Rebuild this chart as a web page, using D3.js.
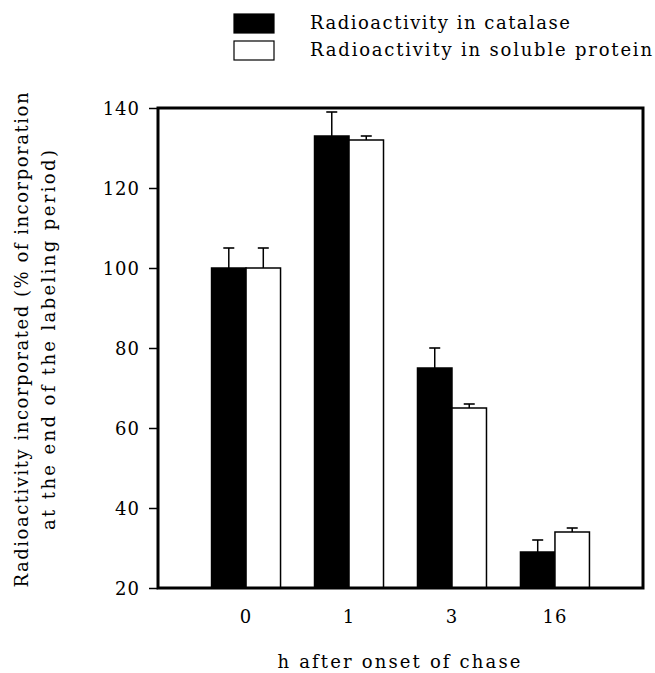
<!DOCTYPE html>
<html><head><meta charset="utf-8">
<script src="https://cdn.jsdelivr.net/npm/d3@7"></script>
<style>body{margin:0;background:#fff}svg{display:block}text{font-family:"DejaVu Serif",serif;fill:#000}</style>
</head><body><svg id="c" width="655" height="673"></svg>
<script>
const categories = ["0", "1", "3", "16"];
const catalase = [100, 133, 75, 29];
const catalaseErr = [5, 6, 5, 3];
const soluble = [100, 132, 65, 34];
const solubleErr = [5, 1, 1, 1];
const yTicks = [20, 40, 60, 80, 100, 120, 140];
const seriesNames = ["Radioactivity in catalase", "Radioactivity in soluble protein"];

const svg = d3.select("#c");
const L = 158, R = 643, T = 108, B = 588;
const x = d3.scaleBand().domain(categories).range([L, R]).paddingOuter(0.52).paddingInner(0.33);
const y = d3.scaleLinear().domain([20, 140]).range([B, T]);
const xs = d3.scaleBand().domain([0, 1]).range([0, x.bandwidth()]);

const series = [
  {vals: catalase, err: catalaseErr, fill: "#000"},
  {vals: soluble, err: solubleErr, fill: "#fff"}
];
series.forEach((s, si) => {
  const g = svg.append("g");
  categories.forEach((c, i) => {
    const x0 = x(c) + xs(si), w = xs.bandwidth(), cx = x0 + w / 2;
    const yt = y(s.vals[i]), ye = y(s.vals[i] + s.err[i]);
    g.append("line").attr("x1", cx).attr("x2", cx).attr("y1", yt).attr("y2", ye).attr("stroke", "#000").attr("stroke-width", 1.5);
    g.append("line").attr("x1", cx - 5.5).attr("x2", cx + 5.5).attr("y1", ye).attr("y2", ye).attr("stroke", "#000").attr("stroke-width", 1.6);
    g.append("rect").attr("x", x0).attr("y", yt).attr("width", w).attr("height", B - yt)
      .attr("fill", s.fill).attr("stroke", "#000").attr("stroke-width", 1.5);
  });
});

// frame
svg.append("rect").attr("x", L).attr("y", T).attr("width", R - L).attr("height", B - T)
  .attr("fill", "none").attr("stroke", "#000").attr("stroke-width", 3);

// y axis
const ya = svg.append("g").attr("transform", `translate(${L},0)`)
  .call(d3.axisLeft(y).tickValues(yTicks).tickSize(9).tickPadding(9).tickFormat(d3.format("d")));
ya.select(".domain").remove();
ya.selectAll("line").attr("stroke-width", 1.5);
ya.selectAll("text").style("font-size", "18px").attr("font-family", "DejaVu Serif").attr("letter-spacing", "1px").attr("dy", "0.34em");

// x axis labels
const xa = svg.append("g").attr("transform", `translate(0,${B})`)
  .call(d3.axisBottom(x).tickSize(0).tickPadding(22));
xa.select(".domain").remove();
xa.selectAll("text").style("font-size", "18px").attr("font-family", "DejaVu Serif").attr("letter-spacing", "1px");

svg.append("text").attr("x", 399).attr("y", 668).attr("text-anchor", "middle")
  .attr("textLength", 243).attr("lengthAdjust", "spacing")
  .style("font-size", "18px").text("h after onset of chase");

const yl = svg.append("g").attr("transform", "translate(0,340) rotate(-90)");
yl.append("text").attr("x", 0).attr("y", 28).attr("text-anchor", "middle").style("font-size", "18px")
  .attr("textLength", 495).attr("lengthAdjust", "spacing")
  .text("Radioactivity incorporated (% of incorporation");
yl.append("text").attr("x", 0).attr("y", 55).attr("text-anchor", "middle").style("font-size", "18px")
  .attr("textLength", 380).attr("lengthAdjust", "spacing")
  .text("at the end of the labeling period)");

// legend
const lg = svg.append("g");
const legendLen = [260, 342];
seriesNames.forEach((n, i) => {
  lg.append("rect").attr("x", 234).attr("y", 14 + i * 27).attr("width", 40).attr("height", 19)
    .attr("fill", series[i].fill).attr("stroke", "#000").attr("stroke-width", 1.2);
  lg.append("text").attr("x", 310).attr("y", 29 + i * 27).style("font-size", "18px")
    .attr("textLength", legendLen[i]).attr("lengthAdjust", "spacing").text(n);
});
</script></body></html>
